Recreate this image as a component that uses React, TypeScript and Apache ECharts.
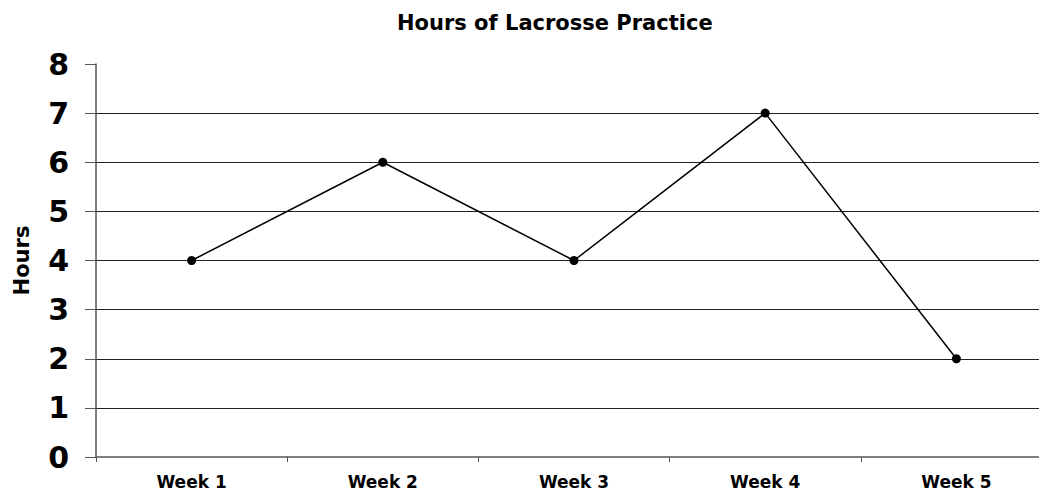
import React, { useEffect, useRef } from "react";
import * as echarts from "echarts";

const categories = ["Week 1", "Week 2", "Week 3", "Week 4", "Week 5"];
const hours = [4, 6, 4, 7, 2];
const titleText = "Hours of Lacrosse Practice";
const yName = "Hours";

export default function App() {
  const ref = useRef<HTMLDivElement>(null);
  useEffect(() => {
    const chart = echarts.init(ref.current!, undefined, { renderer: "svg" });
    chart.setOption({
      animation: false,
      backgroundColor: "#ffffff",
      title: {
        text: titleText,
        left: 392,
        top: 7,
        textStyle: { fontFamily: "DejaVu Sans", fontWeight: "bold", fontSize: 21, color: "#000" },
      },
      grid: { left: 96, right: 0, top: 64, bottom: 40, containLabel: false },
      xAxis: {
        type: "category",
        data: categories,
        boundaryGap: true,
        axisLine: { lineStyle: { color: "#555", width: 1.5 } },
        axisTick: { show: true, length: 5, lineStyle: { color: "#555" } },
        axisLabel: {
          margin: 16,
          fontFamily: "DejaVu Sans",
          fontWeight: "bold",
          fontSize: 17,
          color: "#000",
        },
        splitLine: { show: false },
      },
      yAxis: {
        type: "value",
        min: 0,
        max: 8,
        interval: 1,
        name: yName,
        nameLocation: "middle",
        nameGap: 64,
        nameTextStyle: { fontFamily: "DejaVu Sans", fontWeight: "bold", fontSize: 21, color: "#000" },
        axisLine: { show: true, lineStyle: { color: "#555", width: 1.5 } },
        axisTick: { show: true, length: 11, lineStyle: { color: "#555" } },
        axisLabel: {
          margin: 27,
          fontFamily: "DejaVu Sans",
          fontWeight: "bold",
          fontSize: 30,
          color: "#000",
        },
        splitLine: {
          show: true,
          showMaxLine: false,
          showMinLine: false,
          lineStyle: { color: "#222", width: 1.2 },
        },
      },
      series: [
        {
          type: "line",
          data: hours,
          symbol: "circle",
          symbolSize: 9,
          itemStyle: { color: "#000" },
          lineStyle: { color: "#000", width: 1.5 },
        },
      ],
    });
    return () => chart.dispose();
  }, []);
  return (
    <div
      ref={ref}
      style={{ position: "fixed", left: 0, top: 0, width: 1052, height: 497 }}
    />
  );
}
